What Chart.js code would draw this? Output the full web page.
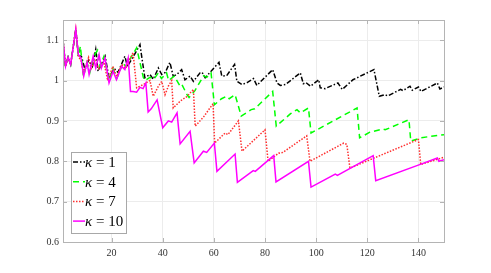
<!DOCTYPE html>
<html>
<head>
<meta charset="utf-8">
<script src="https://cdn.jsdelivr.net/npm/chart.js@4.4.1/dist/chart.umd.min.js"></script>
<style>
  html, body { margin: 0; padding: 0; background: #fff; }
</style>
</head>
<body>
<canvas id="chart" width="491" height="273"></canvas>
<script>
const xTicks = [20, 40, 60, 80, 100, 120, 140];
const yTicks = [0.6, 0.7, 0.8, 0.9, 1.0, 1.1];
const seriesLabels = ['κ = 1', 'κ = 4', 'κ = 7', 'κ = 10'];

// [iteration, value] at the corners of each curve
const kappa1 = [[1,1.10],[2,1.035],[3,1.058],[4,1.04],[6,1.127],[7,1.062],[8.2,1.06],[9.5,1.03],[11,1.05],[12.5,1.035],
  [13.8,1.077],[14.7,1.023],[16,1.04],[17.5,1.06],[19,1.005],[21,1.03],[22.5,1.02],[25.2,1.06],[26.2,1.035],[29,1.065],
  [31.1,1.089],[33,1.007],[35,1.015],[36.3,1.003],[38.3,1.031],[39.6,1.015],[41,1.02],[42.8,1.045],[44.1,1.011],[45.5,1.015],
  [47.4,1.027],[48.7,1.002],[50.7,1.011],[52,0.998],[54.6,1.019],[55.4,1.02],[56.6,1.007],[62,1.045],[63.1,1.011],[65,1.012],
  [68.1,1.04],[69,0.998],[71,0.99],[73,0.995],[75.5,1.005],[76.8,0.988],[83,1.027],[84.7,0.994],[86,0.988],[88,0.99],
  [91,1.005],[93.8,1.019],[95,0.992],[96,0.995],[97.8,0.986],[101,1.002],[101.6,0.982],[103.5,0.98],[108.5,0.994],[110.2,0.978],
  [114.4,1.002],[117,1.01],[122.6,1.027],[124.7,0.961],[126.8,0.965],[128,0.962],[133,0.978],[134,0.975],[136.7,0.986],[137.6,0.976],
  [140,0.984],[141,0.973],[147.4,0.994],[148.4,0.979],[150,0.984]];

const kappa4 = [[1,1.10],[2,1.035],[3,1.058],[4,1.04],[6,1.127],[7,1.06],[7.8,1.085],[9,1.01],[10.4,1.045],[11.5,1.02],
  [13,1.06],[14.5,1.075],[15.5,1.035],[17,1.06],[19,1.0],[20.5,1.03],[22,1.005],[24.5,1.044],[25.5,1.035],[29.8,1.081],
  [32.4,1.008],[33,1.0],[35,1.008],[36.5,1.003],[38.3,1.019],[39.5,1.005],[41.5,1.019],[42.3,1.0],[44.5,1.011],[46.8,0.986],
  [47.5,0.99],[49.5,0.965],[50.3,0.958],[52.6,0.975],[56,1.012],[57.2,1.008],[58.9,1.019],[60.2,0.94],[63,0.955],[65,0.961],
  [66,0.955],[68.3,0.965],[70.7,0.912],[74.6,0.928],[76,0.93],[83,0.973],[84.4,0.887],[90,0.918],[92.5,0.928],[93.8,0.92],
  [97,0.932],[98,0.87],[116,0.932],[117,0.858],[121,0.872],[126,0.88],[127,0.878],[136.3,0.903],[137,0.85],[141,0.858],
  [145,0.862],[150,0.866]];

const kappa7 = [[1,1.10],[2,1.035],[3,1.058],[4,1.04],[6,1.127],[7,1.06],[8,1.05],[9,1.02],[11,1.057],[12,1.03],
  [13.5,1.05],[15,1.03],[17,1.045],[18.5,1.0],[20.5,1.035],[22,1.01],[24,1.04],[25.5,1.03],[28.4,1.069],[29.8,0.982],
  [32.4,0.99],[35,1.0],[36.3,0.961],[38.3,0.986],[39.6,0.998],[40.9,0.965],[42.2,0.986],[43.5,1.0],[44.1,0.932],[47,0.95],
  [49.4,0.96],[52,0.978],[52.7,0.887],[56,0.91],[59.7,0.943],[60.3,0.845],[64.4,0.87],[65.5,0.866],[69.6,0.90],[71,0.825],
  [80,0.878],[81.2,0.80],[85.3,0.82],[87,0.822],[96.3,0.863],[97.6,0.80],[110.8,0.845],[112,0.842],[113.2,0.783],[140,0.854],
  [140.9,0.792],[150,0.81]];

const kappa10 = [[1,1.10],[2,1.035],[3,1.058],[4,1.04],[6,1.127],[7,1.065],[8,1.056],[9.1,1.011],[10.4,1.045],[11.2,1.015],
  [12.8,1.06],[13.8,1.031],[15.1,1.064],[16,1.031],[17.4,1.056],[19,0.994],[20.6,1.023],[21.9,1.002],[23.9,1.035],[25.2,1.027],
  [26.5,1.056],[27.4,0.973],[28.4,0.973],[29.8,0.971],[31.1,0.983],[32.3,0.98],[33.4,0.994],[34.3,0.922],[35.5,0.93],[37.8,0.952],
  [40,0.883],[42.2,0.9],[43.5,0.897],[45.6,0.92],[46.8,0.843],[50.7,0.874],[52.3,0.796],[55.9,0.825],[57.2,0.822],[60.2,0.845],
  [61.2,0.775],[68.3,0.818],[69.2,0.748],[75.4,0.777],[76.2,0.775],[83.4,0.814],[84.3,0.749],[97,0.80],[98,0.736],[107.5,0.768],
  [108.3,0.765],[122.3,0.814],[123.3,0.752],[141,0.793],[147.4,0.808],[148,0.80],[150,0.804]];

const serif = "'Liberation Serif', 'DejaVu Serif', serif";
const axisGray = '#b4b4b4';

const styles = [
  { color: '#000000', dash: [5, 2, 1.5, 2] },
  { color: '#00ff00', dash: [6, 4] },
  { color: '#ff3030', dash: [1.5, 1.5] },
  { color: '#ff00ff', dash: [] }
];

const toPoints = arr => arr.map(([x, y]) => ({ x: x, y: y }));

// box with inward ticks on all four sides
const boxPlugin = {
  id: 'box',
  afterDraw(chart) {
    const { ctx, chartArea: a, scales } = chart;
    ctx.save();
    ctx.strokeStyle = axisGray;
    ctx.lineWidth = 1;
    ctx.strokeRect(Math.round(a.left) + 0.5, Math.round(a.top) + 0.5,
      Math.round(a.right - a.left), Math.round(a.bottom - a.top));
    ctx.beginPath();
    xTicks.forEach(t => {
      const x = Math.round(scales.x.getPixelForValue(t)) + 0.5;
      ctx.moveTo(x, a.bottom); ctx.lineTo(x, a.bottom - 4);
      ctx.moveTo(x, a.top); ctx.lineTo(x, a.top + 4);
    });
    yTicks.forEach(t => {
      const y = Math.round(scales.y.getPixelForValue(t)) + 0.5;
      ctx.moveTo(a.left, y); ctx.lineTo(a.left + 4, y);
      ctx.moveTo(a.right, y); ctx.lineTo(a.right - 4, y);
    });
    ctx.stroke();
    ctx.restore();
  }
};

// legend box in the lower-left corner
const legendPlugin = {
  id: 'boxLegend',
  afterDraw(chart) {
    const { ctx } = chart;
    const bx = 71, by = 152, bw = 55, bh = 81;
    ctx.save();
    ctx.fillStyle = '#ffffff';
    ctx.fillRect(bx, by, bw, bh);
    ctx.strokeStyle = '#a8a8a8';
    ctx.lineWidth = 1;
    ctx.strokeRect(bx + 0.5, by + 0.5, bw, bh);
    chart.data.datasets.forEach((ds, i) => {
      const y = 162 + i * 19.7;
      ctx.beginPath();
      ctx.setLineDash(ds.borderDash);
      ctx.strokeStyle = ds.borderColor;
      ctx.lineWidth = 1.5;
      ctx.moveTo(73, y);
      ctx.lineTo(85, y);
      ctx.stroke();
      ctx.setLineDash([]);
      ctx.fillStyle = '#000';
      ctx.textBaseline = 'middle';
      ctx.font = 'italic 15px ' + serif;
      const sym = ds.label.slice(0, 1);
      ctx.fillText(sym, 85, y + 1);
      const w = ctx.measureText(sym).width;
      ctx.font = '15px ' + serif;
      ctx.fillText(ds.label.slice(1), 85 + w, y + 1);
    });
    ctx.restore();
  }
};

new Chart('chart', {
  type: 'line',
  data: {
    datasets: [kappa1, kappa4, kappa7, kappa10].map((arr, i) => ({
      label: seriesLabels[i],
      data: toPoints(arr),
      borderColor: styles[i].color,
      borderDash: styles[i].dash,
      borderWidth: 1.5,
      pointRadius: 0,
      tension: 0,
      fill: false,
      order: 3 - i
    }))
  },
  options: {
    responsive: false,
    animation: false,
    devicePixelRatio: 1,
    layout: { padding: { top: 20, right: 47, left: 0, bottom: 0 } },
    plugins: { legend: { display: false }, tooltip: { enabled: false } },
    scales: {
      x: {
        type: 'linear',
        min: 1,
        max: 150,
        afterBuildTicks: s => { s.ticks = xTicks.map(v => ({ value: v })); },
        afterFit: s => { s.height = 31; },
        grid: { color: '#ececec', drawTicks: false },
        border: { display: false },
        ticks: { autoSkip: false, maxRotation: 0, padding: 5, color: '#333',
          font: { family: serif, size: 10 } }
      },
      y: {
        min: 0.6,
        max: 1.15,
        afterBuildTicks: s => { s.ticks = yTicks.map(v => ({ value: v })); },
        afterFit: s => { s.width = 63; },
        grid: { color: '#ececec', drawTicks: false },
        border: { display: false },
        ticks: { padding: 4, color: '#333', font: { family: serif, size: 10 },
          callback: v => String(+v.toFixed(2)) }
      }
    }
  },
  plugins: [boxPlugin, legendPlugin]
});
</script>
</body>
</html>
